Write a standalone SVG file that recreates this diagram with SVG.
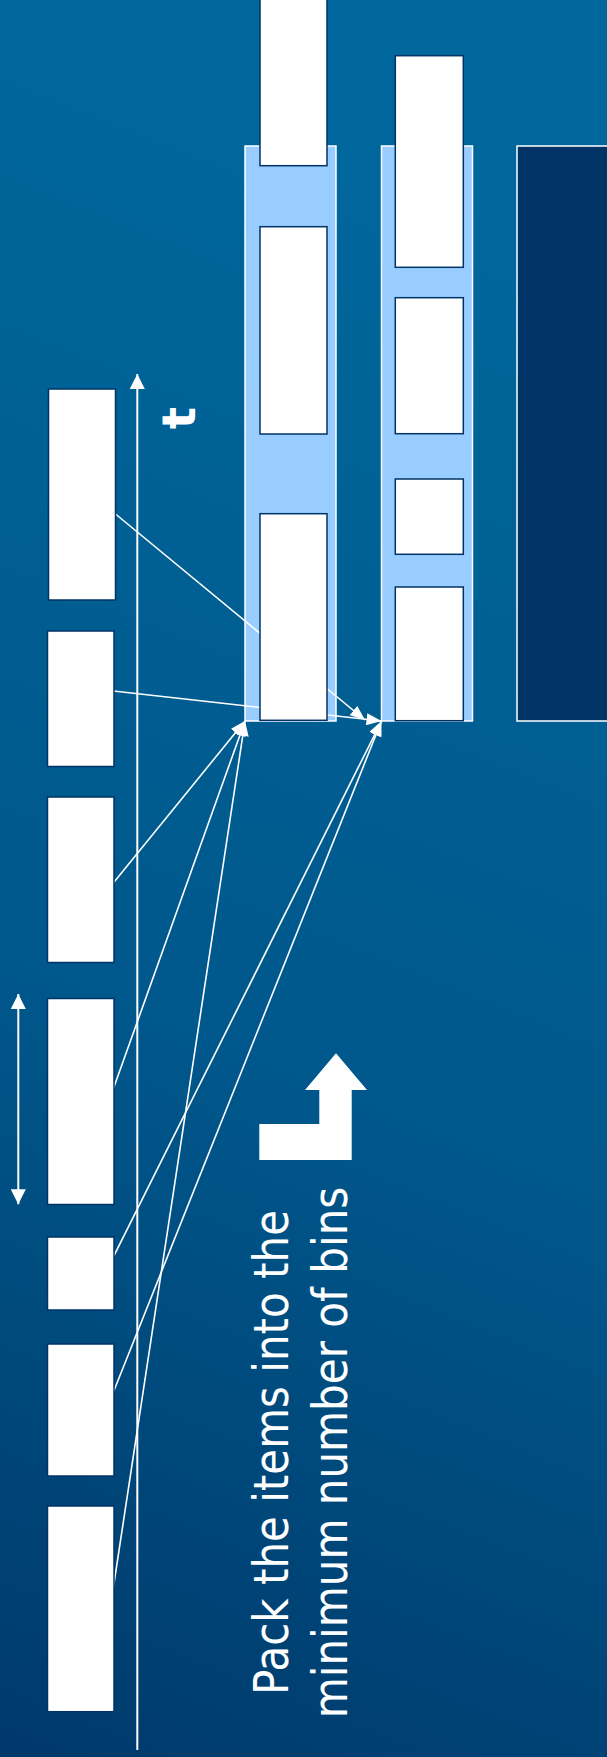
<svg xmlns="http://www.w3.org/2000/svg" width="607" height="1757" viewBox="0 0 607 1757">
  <defs>
    <linearGradient id="bg" gradientUnits="userSpaceOnUse" x1="607" y1="250" x2="0" y2="1757">
      <stop offset="0" stop-color="#00679c"/>
      <stop offset="0.55" stop-color="#00578b"/>
      <stop offset="1" stop-color="#00396b"/>
    </linearGradient>
    <marker id="ah" viewBox="0 0 15 12" markerUnits="userSpaceOnUse" markerWidth="15" markerHeight="12" refX="15" refY="6" orient="auto">
      <path d="M0,0 L15,6 L0,12 z" fill="#ffffff"/>
    </marker>
    <marker id="big" viewBox="0 0 15 15" markerUnits="userSpaceOnUse" markerWidth="15" markerHeight="15" refX="15" refY="7.5" orient="auto-start-reverse">
      <path d="M0,0 L15,7.5 L0,15 z" fill="#ffffff"/>
    </marker>
    <style>
      .bin { fill: #99ccff; stroke: #ffffff; stroke-width: 1.5; }
      .dark { fill: #003366; stroke: #ffffff; stroke-width: 1.5; }
      .item { fill: #ffffff; stroke: #003366; stroke-width: 1.5; }
      .conn { stroke: #ffffff; stroke-width: 1.6; fill: none; marker-end: url(#ah); }
      .axis { stroke: #ffffff; stroke-width: 2; fill: none; }
      .lbl { fill: #ffffff; font-family: "DejaVu Sans", Verdana, sans-serif; }
    </style>
  </defs>

  <rect x="0" y="0" width="607" height="1757" fill="url(#bg)"/>

  <g id="bins">
    <rect id="bin1" class="bin" x="245" y="146" width="91" height="575"/>
    <rect id="bin2" class="bin" x="381.5" y="146" width="91" height="575"/>
    <rect id="bin3" class="dark" x="517" y="146" width="100" height="575"/>
  </g>

  <g id="connectors">
    <line class="conn" x1="115.5" y1="514" x2="365" y2="720"/>
    <line class="conn" x1="113.5" y1="691" x2="381.5" y2="721"/>
    <line class="conn" x1="113.5" y1="882.7" x2="245" y2="721"/>
    <line class="conn" x1="113.5" y1="1088.3" x2="245" y2="721"/>
    <line class="conn" x1="113.5" y1="1256.7" x2="381.5" y2="721"/>
    <line class="conn" x1="113.5" y1="1391.7" x2="381.5" y2="721"/>
    <line class="conn" x1="113.5" y1="1586.7" x2="245" y2="721"/>
  </g>

  <g id="bin1-items">
    <rect id="b1i1" class="item" x="260" y="-1" width="67" height="166.7"/>
    <rect id="b1i2" class="item" x="260" y="226.7" width="67" height="207.3"/>
    <rect id="b1i3" class="item" x="260" y="513.7" width="67" height="206.6"/>
  </g>
  <g id="bin2-items">
    <rect id="b2i1" class="item" x="395.3" y="55.7" width="68" height="211.6"/>
    <rect id="b2i2" class="item" x="395.3" y="297.7" width="68" height="136"/>
    <rect id="b2i3" class="item" x="395.3" y="479" width="68" height="75.3"/>
    <rect id="b2i4" class="item" x="395.3" y="587" width="68" height="133.7"/>
  </g>

  <g id="items">
    <rect id="L1" class="item" x="48.5" y="389" width="67" height="211"/>
    <rect id="L2" class="item" x="47.5" y="631" width="66.5" height="135.5"/>
    <rect id="L3" class="item" x="47.5" y="797" width="66.5" height="165.5"/>
    <rect id="L4" class="item" x="47.5" y="998.5" width="66.5" height="206"/>
    <rect id="L5" class="item" x="47.5" y="1237" width="66.5" height="73"/>
    <rect id="L6" class="item" x="47.5" y="1344" width="66.5" height="132"/>
    <rect id="L7" class="item" x="47.5" y="1506" width="66.5" height="205.7"/>
  </g>

  <g id="time-axis">
    <line class="axis" x1="137.3" y1="1750" x2="137.3" y2="374" marker-end="url(#big)"/>
    <text class="lbl" transform="translate(195,418) rotate(-90)" text-anchor="middle" font-size="46" font-weight="bold">t</text>
  </g>

  <g id="size-arrow">
    <line class="axis" stroke-width="1.6" x1="18.3" y1="994" x2="18.3" y2="1204.3" marker-start="url(#big)" marker-end="url(#big)"/>
  </g>

  <g id="bent-arrow">
    <polygon fill="#ffffff" points="259.3,1124 319.3,1124 319.3,1090 305,1090 336,1053.3 367,1090 351.7,1090 351.7,1160 259.3,1160"/>
  </g>

  <g id="caption">
    <text class="lbl" transform="rotate(-90)" x="-1452.5" y="288.3" font-size="48" text-anchor="middle" textLength="485" lengthAdjust="spacingAndGlyphs">Pack the items into the</text>
    <text class="lbl" transform="rotate(-90)" x="-1452.5" y="346.7" font-size="48" text-anchor="middle" textLength="531.6" lengthAdjust="spacingAndGlyphs">minimum number of bins</text>
  </g>
</svg>
